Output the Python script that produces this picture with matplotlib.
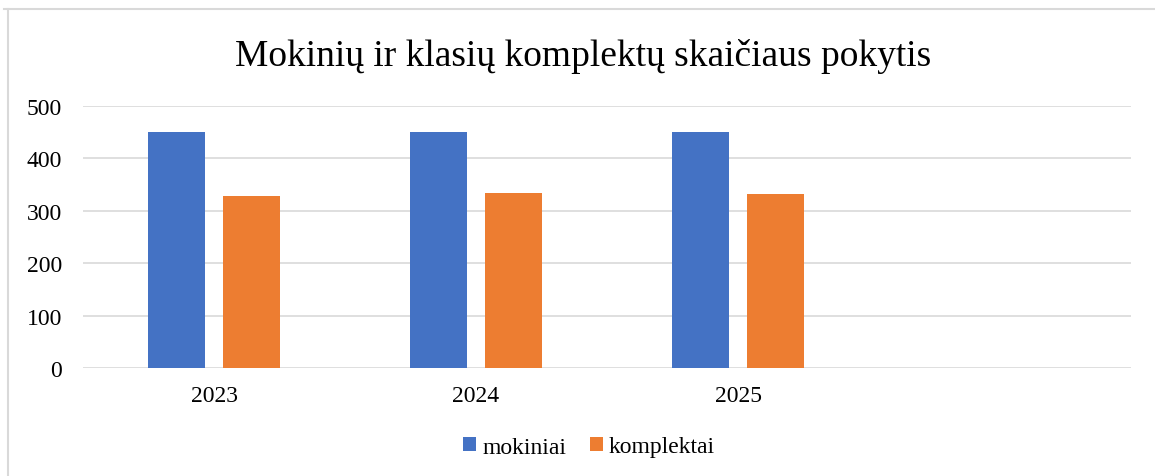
import numpy as np
import matplotlib
matplotlib.use("Agg")
import matplotlib.pyplot as plt
from matplotlib.lines import Line2D

# data
years = ["2023", "2024", "2025", ""]
mokiniai = [450, 450, 450, None]
komplektai = [328, 334, 333, None]

BLUE = "#4472C4"
ORANGE = "#ED7D31"
GRID = "#D9D9D9"

plt.rcParams["font.family"] = ["Liberation Serif", "DejaVu Serif"]

fig = plt.figure(figsize=(11.55, 4.77), dpi=100)
fig.patch.set_facecolor("white")

# chart frame (light gray border on top and left, as in the screenshot)
fig.add_artist(Line2D([4 / 1155, 1], [1 - 10 / 477, 1 - 10 / 477],
                      transform=fig.transFigure, color=GRID, lw=1.5))
fig.add_artist(Line2D([8 / 1155, 8 / 1155], [0, 1 - 10 / 477],
                      transform=fig.transFigure, color=GRID, lw=1.5))

ax = fig.add_axes([83 / 1155, 108 / 477, (1131 - 83) / 1155, (369 - 107) / 477])

x = np.arange(len(years))
w = 0.22
off = 0.143
m_vals = [v if v is not None else 0 for v in mokiniai]
k_vals = [v if v is not None else 0 for v in komplektai]
ax.bar(x - off, m_vals, w, color=BLUE, label="mokiniai", zorder=3)
ax.bar(x + off, k_vals, w, color=ORANGE, label="komplektai", zorder=3)

ax.set_xlim(-0.5, len(years) - 0.5)
ax.set_ylim(0, 500)
ax.set_yticks(range(0, 501, 100))
ax.set_xticks(x)
ax.set_xticklabels(years)
ax.grid(axis="y", color=GRID, lw=1.2, zorder=0)
for s in ax.spines.values():
    s.set_visible(False)
ax.tick_params(length=0, labelsize=17)
ax.tick_params(axis="y", pad=15)
ax.tick_params(axis="x", pad=12)

fig.text(583 / 1155, 1 - 56 / 477, "Mokinių ir klasių komplektų skaičiaus pokytis",
         ha="center", va="center", fontsize=27)

ax.legend(loc="center", bbox_to_anchor=(589 / 1155, 1 - 448 / 477),
          bbox_transform=fig.transFigure, ncol=2, frameon=False, fontsize=17,
          handlelength=0.55, handleheight=0.55, handletextpad=0.25, columnspacing=1.0)

fig.savefig("out.png", dpi=100)
